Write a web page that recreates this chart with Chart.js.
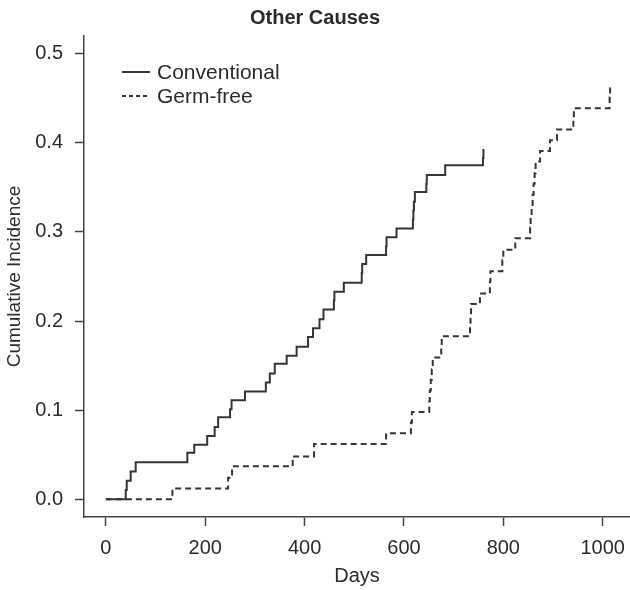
<!DOCTYPE html>
<html>
<head>
<meta charset="utf-8">
<title>Other Causes</title>
<script src="https://cdn.jsdelivr.net/npm/chart.js@4.4.0/dist/chart.umd.min.js"></script>
<style>
  html, body { margin: 0; padding: 0; background: #ffffff; }
  #wrap { width: 630px; height: 590px; }
</style>
</head>
<body>
<div id="wrap"><canvas id="chart" width="630" height="590"></canvas></div>
<script>
// Cumulative incidence of death from other causes (step functions)
const conventionalDays = [0, 40, 42, 50, 60, 164, 178, 204, 219, 226, 250, 253, 280, 322, 330, 340, 364, 384, 407, 417, 430, 438, 459, 460, 479, 515, 516, 524, 564, 565, 585, 618, 619, 620, 622, 645, 646, 683, 759, 760];
const conventionalIncidence = [0, 0.0104, 0.0208, 0.0312, 0.0416, 0.052, 0.061, 0.071, 0.081, 0.092, 0.101, 0.111, 0.121, 0.131, 0.141, 0.152, 0.161, 0.171, 0.182, 0.192, 0.202, 0.213, 0.223, 0.233, 0.243, 0.254, 0.264, 0.274, 0.284, 0.294, 0.304, 0.314, 0.324, 0.334, 0.345, 0.354, 0.364, 0.375, 0.383, 0.393];

const germFreeDays = [0, 134, 246, 254, 376, 419, 564, 614, 616, 651, 652, 654, 656, 658, 675, 676, 733, 734, 735, 753, 773, 774, 798, 800, 824, 854, 855, 857, 859, 861, 863, 865, 874, 894, 908, 941, 942, 1014, 1015];
const germFreeIncidence = [0, 0.012, 0.024, 0.037, 0.048, 0.062, 0.074, 0.086, 0.098, 0.110, 0.122, 0.134, 0.146, 0.159, 0.171, 0.183, 0.195, 0.207, 0.219, 0.231, 0.244, 0.256, 0.268, 0.280, 0.293, 0.305, 0.317, 0.329, 0.342, 0.354, 0.366, 0.379, 0.391, 0.403, 0.415, 0.427, 0.439, 0.451, 0.464];

const seriesNames = ['Conventional', 'Germ-free'];
const xTickValues = [0, 200, 400, 600, 800, 1000];
const yTickValues = [0.0, 0.1, 0.2, 0.3, 0.4, 0.5];

const FONT = '"Liberation Sans", Arial, Helvetica, sans-serif';
const INK = '#2b2b2b';
const AXIS = '#444444';

function toPoints(days, values) {
  return days.map((d, i) => ({ x: d, y: values[i] }));
}

// Legend drawn inside the plot area, top-left, using each dataset's own style
const insideLegend = {
  id: 'insideLegend',
  afterDatasetsDraw(chart) {
    const ctx = chart.ctx;
    const x0 = 122, x1 = 150, textX = 157;
    const rows = [72, 96];
    ctx.save();
    chart.data.datasets.forEach((ds, i) => {
      const y = rows[i];
      ctx.beginPath();
      ctx.strokeStyle = ds.borderColor;
      ctx.lineWidth = ds.borderWidth;
      ctx.setLineDash(ds.legendDash || []);
      ctx.moveTo(x0, y);
      ctx.lineTo(x1, y);
      ctx.stroke();
      ctx.setLineDash([]);
      ctx.fillStyle = INK;
      ctx.font = '21px ' + FONT;
      ctx.textAlign = 'left';
      ctx.textBaseline = 'middle';
      ctx.fillText(ds.label, textX, y + 1);
    });
    ctx.restore();
  }
};

new Chart(document.getElementById('chart'), {
  type: 'line',
  data: {
    datasets: [
      {
        label: seriesNames[0],
        data: toPoints(conventionalDays, conventionalIncidence),
        stepped: 'before',
        borderColor: '#353535',
        borderWidth: 2,
        pointRadius: 0,
        fill: false,
        legendDash: []
      },
      {
        label: seriesNames[1],
        data: toPoints(germFreeDays, germFreeIncidence),
        stepped: 'before',
        borderColor: '#353535',
        borderWidth: 2,
        borderDash: [6, 4],
        pointRadius: 0,
        fill: false,
        legendDash: [4, 3]
      }
    ]
  },
  options: {
    responsive: false,
    animation: false,
    devicePixelRatio: 1,
    layout: { padding: { left: 0, right: 0, top: 0, bottom: 0 } },
    plugins: {
      legend: { display: false },
      tooltip: { enabled: false },
      title: {
        display: true,
        text: 'Other Causes',
        color: INK,
        font: { family: FONT, size: 20, weight: 'bold' },
        padding: { top: 6, bottom: 6 }
      }
    },
    scales: {
      x: {
        type: 'linear',
        min: -44,
        max: 1055,
        afterBuildTicks(scale) { scale.ticks = xTickValues.map(v => ({ value: v })); },
        afterFit(scale) {
          scale.height = 73;
          // axis runs to the right edge of the canvas
          scale.paddingLeft = 0;
          scale.paddingRight = 0;
        },
        grid: { drawOnChartArea: false, drawTicks: true, tickLength: 9, tickWidth: 1.5, tickColor: AXIS },
        border: { display: true, color: AXIS, width: 1.5 },
        ticks: {
          color: INK,
          font: { family: FONT, size: 20 },
          padding: 10,
          maxRotation: 0,
          callback: v => String(v)
        },
        title: {
          display: true,
          text: 'Days',
          color: INK,
          font: { family: FONT, size: 20 },
          padding: { top: 2, bottom: 2 }
        }
      },
      y: {
        type: 'linear',
        min: -0.02,
        max: 0.52,
        afterBuildTicks(scale) { scale.ticks = yTickValues.map(v => ({ value: v })); },
        afterFit(scale) {
          scale.width = 84;
          scale.paddingTop = 0;
          scale.paddingBottom = 0;
        },
        grid: { drawOnChartArea: false, drawTicks: true, tickLength: 9, tickWidth: 1.5, tickColor: AXIS },
        border: { display: true, color: AXIS, width: 1.5 },
        ticks: {
          color: INK,
          font: { family: FONT, size: 20 },
          padding: 12,
          callback: v => Number(v).toFixed(1)
        },
        title: {
          display: true,
          text: 'Cumulative Incidence',
          color: INK,
          font: { family: FONT, size: 19 },
          padding: { top: 3, bottom: 0 }
        }
      }
    }
  },
  plugins: [insideLegend]
});
</script>
</body>
</html>
